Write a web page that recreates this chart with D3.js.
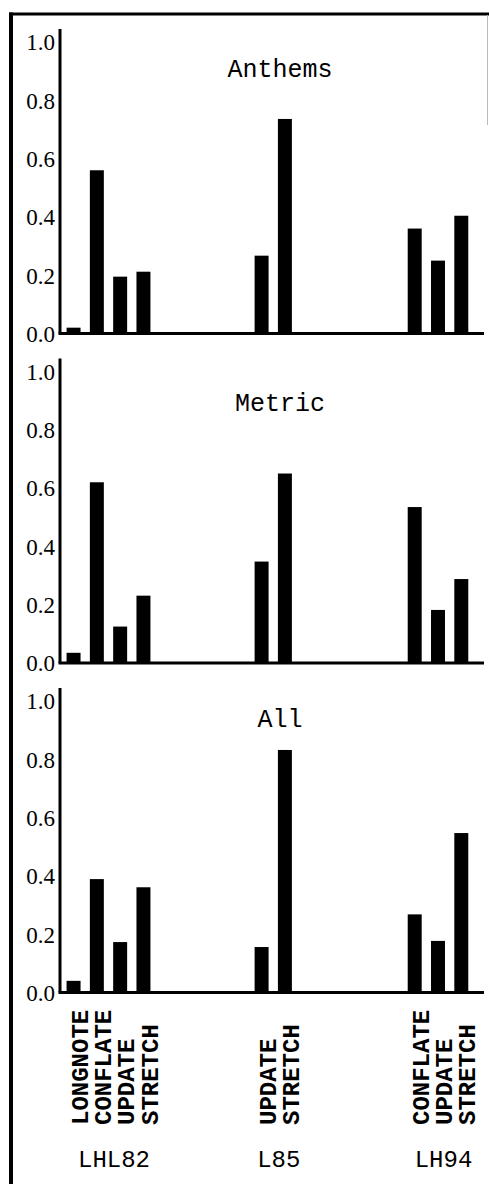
<!DOCTYPE html>
<html>
<head>
<meta charset="utf-8">
<script src="https://cdn.jsdelivr.net/npm/d3@7"></script>
<style>
  html, body { margin: 0; padding: 0; background: #fff; }
  svg { display: block; }
</style>
</head>
<body>
<svg id="chart" width="489" height="1184"></svg>
<script>
// ---- data ----
const groups = ["LHL82", "L85", "LH94"];
const lhl82Cats = ["LONGNOTE", "CONFLATE", "UPDATE", "STRETCH"];
const l85Cats = ["UPDATE", "STRETCH"];
const lh94Cats = ["CONFLATE", "UPDATE", "STRETCH"];
const panelTitles = ["Anthems", "Metric", "All"];
const anthemsValues = [[0.02, 0.56, 0.195, 0.212], [0.267, 0.736], [0.36, 0.25, 0.404]];
const metricValues  = [[0.035, 0.62, 0.125, 0.231], [0.348, 0.65], [0.535, 0.182, 0.288]];
const allValues     = [[0.04, 0.389, 0.173, 0.361], [0.156, 0.832], [0.268, 0.177, 0.547]];
const yTicks = [0, 0.2, 0.4, 0.6, 0.8, 1.0];

// ---- layout ----
const W = 489, H = 1184;
const axisX = 60, axisRight = 484;
const firstTop = 42, panelStep = 329.5, plotH = 291.5;
const titleX = 280;
const titleDy = [35, 39, 26];
const barStep = 23.3;
const labelShift = 5.5;
const catLabelBottom = 1125;
const groupLabelY = 1167;

const groupCats = [lhl82Cats, l85Cats, lh94Cats];
const panelValues = [anthemsValues, metricValues, allValues];

const svg = d3.select("#chart");

// outer frame
svg.append("line").attr("x1", 11).attr("x2", 11).attr("y1", 12.5).attr("y2", H)
  .attr("stroke", "#000").attr("stroke-width", 4);
svg.append("line").attr("x1", 9).attr("x2", W).attr("y1", 14).attr("y2", 14)
  .attr("stroke", "#000").attr("stroke-width", 3);
svg.append("line").attr("x1", 487.5).attr("x2", 487.5).attr("y1", 15).attr("y2", 125)
  .attr("stroke", "#bbb").attr("stroke-width", 1);

// group center scale
const gx = d3.scalePoint().domain(groups).range([108.5, 438]);
// inner band scales per group
const inner = groups.map((g, i) => {
  const n = groupCats[i].length;
  const c = gx(g);
  return d3.scaleBand().domain(d3.range(n))
    .range([c - n * barStep / 2, c + n * barStep / 2])
    .paddingInner(0.4).paddingOuter(0.2);
});

panelTitles.forEach((title, p) => {
  const top = firstTop + p * panelStep;
  const base = top + plotH;
  const y = d3.scaleLinear().domain([0, 1]).range([base, top]);
  const g = svg.append("g");

  // y axis
  const yAxis = d3.axisLeft(y).tickValues(yTicks).tickFormat(d3.format(".1f"))
    .tickSize(0).tickPadding(5);
  const ax = g.append("g").attr("transform", `translate(${axisX},0)`).call(yAxis);
  ax.select(".domain").remove();
  ax.selectAll("text")
    .attr("font-family", "'Liberation Serif', 'Times New Roman', serif")
    .attr("font-size", 23).attr("fill", "#000").attr("dy", "0.34em");
  g.append("line").attr("x1", axisX).attr("x2", axisX)
    .attr("y1", y(1.045)).attr("y2", base)
    .attr("stroke", "#000").attr("stroke-width", 3);

  // bars
  groups.forEach((gr, gi) => {
    const vals = panelValues[p][gi];
    g.selectAll(null).data(vals).enter().append("rect")
      .attr("x", (d, i) => inner[gi](i))
      .attr("width", inner[gi].bandwidth())
      .attr("y", d => y(d))
      .attr("height", d => base - y(d))
      .attr("fill", "#000");
  });

  // baseline
  g.append("line").attr("x1", axisX - 1.5).attr("x2", axisRight)
    .attr("y1", base).attr("y2", base)
    .attr("stroke", "#000").attr("stroke-width", 3);

  // title
  g.append("text").attr("x", titleX).attr("y", top + titleDy[p])
    .attr("text-anchor", "middle")
    .attr("font-family", "'Liberation Mono', 'Courier New', monospace")
    .attr("font-size", 25).attr("fill", "#000")
    .text(title);
});

// category labels (rotated) and group labels
groups.forEach((gr, gi) => {
  groupCats[gi].forEach((cat, i) => {
    const cx = inner[gi](i) + inner[gi].bandwidth() / 2 + labelShift;
    svg.append("text")
      .attr("transform", `translate(${cx},${catLabelBottom}) rotate(-90)`)
      .attr("dy", "0.36em")
      .attr("text-anchor", "start")
      .attr("font-family", "'Liberation Mono', 'Courier New', monospace")
      .attr("font-weight", "bold")
      .attr("font-size", 24).attr("fill", "#000")
      .text(cat);
  });
  svg.append("text")
    .attr("x", gx(gr) + labelShift).attr("y", groupLabelY)
    .attr("text-anchor", "middle")
    .attr("font-family", "'Liberation Mono', 'Courier New', monospace")
    .attr("font-size", 24).attr("fill", "#000")
    .text(gr);
});
</script>
</body>
</html>
